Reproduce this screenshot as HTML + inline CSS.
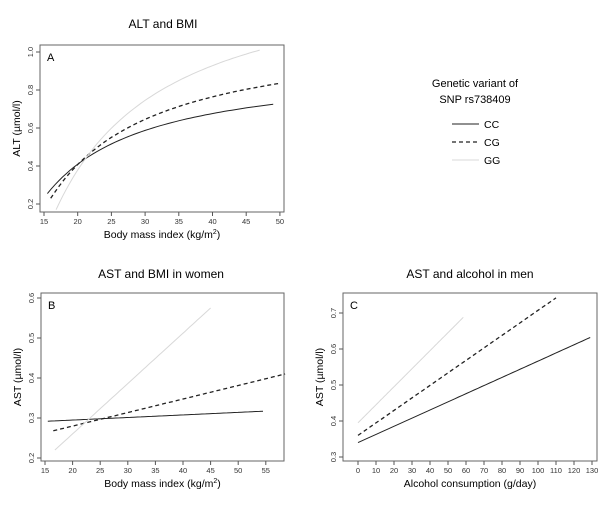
<!DOCTYPE html>
<html><head><meta charset="utf-8"><style>
body{margin:0;background:#fff}
svg{display:block;font-family:"Liberation Sans",Arial,sans-serif}
</style></head><body>
<svg id="s" width="609" height="508" viewBox="0 0 609 508" xmlns="http://www.w3.org/2000/svg"></svg>
<script>
const s=document.getElementById('s');let h='';
function panel(o){
 const {L,R,T,B,xs,xe,xv0,xp0,xk,yv0,yp0,yk,xt,yt,title,tx,ty,letter,xl,yl}=o;
 h+=`<text x="${tx}" y="${ty}" font-size="12" text-anchor="middle">${title}</text>`;
 h+=`<rect x="${L}" y="${T}" width="${R-L}" height="${B-T}" fill="none" stroke="#666" stroke-width="1"/>`;
 h+=`<text x="${L+7}" y="${T+16}" font-size="11">${letter}</text>`;
 for(const v of xt){const x=xp0+(v-xv0)*xk;h+=`<line x1="${x}" y1="${B}" x2="${x}" y2="${B+4}" stroke="#555"/><text x="${x}" y="${B+12}" font-size="7.5" text-anchor="middle" fill="#333">${v}</text>`;}
 for(const v of yt){const y=yp0-(v-yv0)*yk;h+=`<line x1="${L}" y1="${y}" x2="${L-4}" y2="${y}" stroke="#555"/><text transform="translate(${L-7},${y}) rotate(-90)" font-size="7.5" text-anchor="middle" fill="#333">${v.toFixed(1)}</text>`;}
 h+=`<text x="${(L+R)/2}" y="${B+26}" font-size="10.5" text-anchor="middle">${xl}</text>`;
 h+=`<text transform="translate(${L-20},${(T+B)/2}) rotate(-90)" font-size="10.5" text-anchor="middle">${yl}</text>`;
 o.X=v=>xp0+(v-xv0)*xk;o.Y=v=>yp0-(v-yv0)*yk;return o;
}
const st={CC:'stroke="#222" stroke-width="1"',CG:'stroke="#222" stroke-width="1.3" stroke-dasharray="4,3"',GG:'stroke="#d8d8d8" stroke-width="1"'};
function curve(p,f,a,b,k){let d='';for(let i=0;i<=60;i++){const x=a+(b-a)*i/60;d+=(i?'L':'M')+p.X(x).toFixed(1)+','+p.Y(f(x)).toFixed(1);}h+=`<path d="${d}" fill="none" ${st[k]}/>`;}
const xlab='Body mass index (kg/m<tspan dy="-4" font-size="7">2</tspan><tspan dy="4">)</tspan>';
const A=panel({L:40,R:284,T:45,B:212,xv0:15,xp0:44,xk:6.74,yv0:0.2,yp0:204,yk:190,xt:[15,20,25,30,35,40,45,50],yt:[0.2,0.4,0.6,0.8,1.0],title:'ALT and BMI',tx:163,ty:28,letter:'A',xl:xlab,yl:'ALT (µmol/l)'});
curve(A,x=>0.9425-10.66/x,15.5,49,'CC');
curve(A,x=>1.12-14.24/x,16,50,'CG');
curve(A,x=>1.4775-21.97/x,16.8,47,'GG');
const Bp=panel({L:41,R:284,T:293,B:461,xv0:15,xp0:45,xk:5.52,yv0:0.2,yp0:458,yk:400,xt:[15,20,25,30,35,40,45,50,55],yt:[0.2,0.3,0.4,0.5,0.6],title:'AST and BMI in women',tx:161,ty:278,letter:'B',xl:xlab,yl:'AST (µmol/l)'});
curve(Bp,x=>0.292+(x-15.5)*0.025/39,15.5,54.5,'CC');
curve(Bp,x=>0.268+(x-16.5)*0.142/42,16.5,58.5,'CG');
curve(Bp,x=>0.22+(x-16.8)*0.355/28.2,16.8,45,'GG');
const C=panel({L:343,R:597,T:293,B:461,xv0:0,xp0:358,xk:1.8,yv0:0.3,yp0:457,yk:360,xt:[0,10,20,30,40,50,60,70,80,90,100,110,120,130],yt:[0.3,0.4,0.5,0.6,0.7],title:'AST and alcohol in men',tx:470,ty:278,letter:'C',xl:'Alcohol consumption (g/day)',yl:'AST (µmol/l)'});
curve(C,x=>0.34+x*0.292/129,0,129,'CC');
curve(C,x=>0.36+x*0.382/110,0,110,'CG');
curve(C,x=>0.395+x*0.293/58.5,0,58.5,'GG');
h+=`<text x="475" y="87" font-size="11" text-anchor="middle">Genetic variant of</text><text x="475" y="103" font-size="11" text-anchor="middle">SNP rs738409</text>`;
[['CC',124],['CG',142],['GG',160]].forEach(([k,y])=>{h+=`<line x1="452" y1="${y}" x2="479" y2="${y}" ${st[k]}/><text x="484" y="${y+4}" font-size="10.5">${k}</text>`;});
s.innerHTML=h;
</script>
</body></html>
